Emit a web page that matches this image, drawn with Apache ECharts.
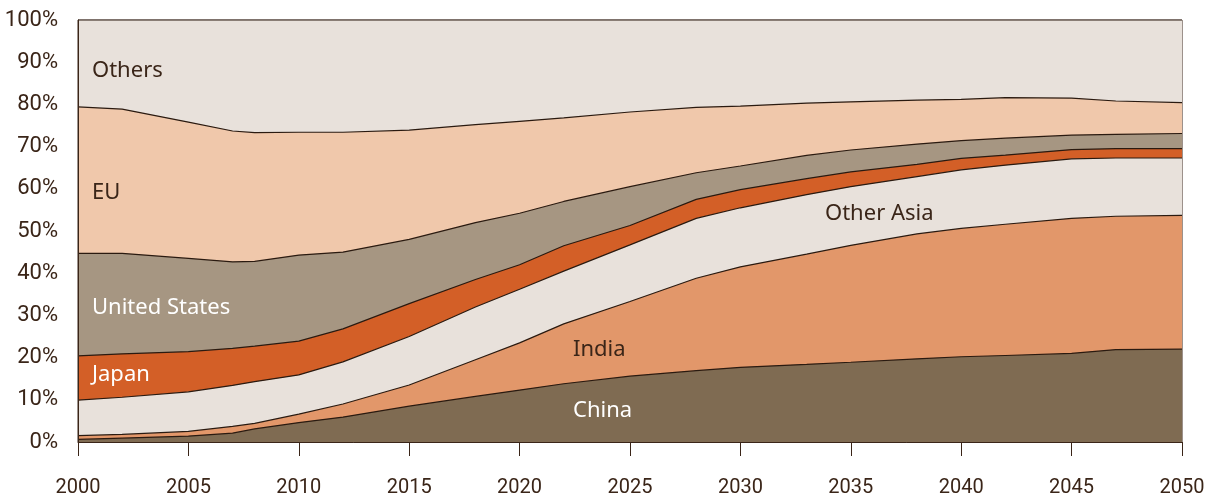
<!DOCTYPE html>
<html>
<head>
<meta charset="utf-8">
<script src="https://cdn.jsdelivr.net/npm/echarts@6/dist/echarts.min.js"></script>
<style>
  html, body { margin: 0; padding: 0; background: #fff; }
  #chart { width: 1217px; height: 500px; }
</style>
</head>
<body>
<div id="chart"></div>
<script>
// years
const years = [2000, 2002, 2005, 2007, 2008, 2010, 2012, 2015, 2018, 2020, 2022,
  2025, 2028, 2030, 2033, 2035, 2038, 2040, 2042, 2045, 2047, 2050]

// shares in %, bottom layer first
const china     = [0.6, 0.9, 1.4, 2.1, 3.1, 4.6, 5.9, 8.5, 10.8, 12.3, 13.8, 15.6, 16.9, 17.7, 18.4, 18.9, 19.7, 20.2, 20.5, 21.0, 21.9, 22.0]
const india     = [0.9, 0.9, 1.1, 1.6, 1.3, 2.0, 3.1, 5.0, 8.7, 11.2, 14.2, 17.7, 21.9, 23.8, 26.1, 27.7, 29.6, 30.4, 31.1, 32.0, 31.6, 31.7]
const otherAsia = [8.4, 8.8, 9.4, 9.7, 9.9, 9.3, 10.0, 11.5, 12.5, 12.7, 12.5, 13.4, 14.2, 14.0, 14.1, 13.9, 13.6, 13.9, 14.0, 14.1, 13.8, 13.6]
const japan     = [10.5, 10.3, 9.5, 8.8, 8.4, 8.0, 7.8, 7.8, 6.5, 5.8, 6.0, 4.6, 4.5, 4.3, 3.8, 3.5, 2.9, 2.7, 2.4, 2.2, 2.2, 2.2]
const us        = [24.3, 23.8, 22.1, 20.5, 20.1, 20.4, 18.2, 15.2, 13.5, 12.2, 10.5, 9.2, 6.3, 5.6, 5.5, 5.2, 4.8, 4.2, 4.0, 3.4, 3.4, 3.6]
const eu        = [34.7, 34.2, 32.3, 31.0, 30.5, 29.1, 28.4, 25.9, 23.2, 21.8, 19.8, 17.7, 15.5, 14.2, 12.4, 11.4, 10.4, 9.8, 9.6, 8.8, 7.9, 7.3]
const others    = [20.6, 21.1, 24.2, 26.3, 26.7, 26.6, 26.6, 26.1, 24.8, 24.0, 23.2, 21.8, 20.7, 20.4, 19.7, 19.4, 19.0, 18.8, 18.4, 18.5, 19.2, 19.6]

const layers = [
  { name: 'China', data: china, color: '#7f6b52' },
  { name: 'India', data: india, color: '#e2976a' },
  { name: 'Other Asia', data: otherAsia, color: '#e8e1db' },
  { name: 'Japan', data: japan, color: '#d35f27' },
  { name: 'United States', data: us, color: '#a69682' },
  { name: 'EU', data: eu, color: '#f0c8ab' },
  { name: 'Others', data: others, color: '#e8e1db' }
]

const ink = '#3a2518'
const font = 'Roboto'

// running totals: each layer is filled from its top edge down to 0,
// the upper layers are painted first so the lower ones sit on top
const running = years.map(() => 0)
const series = layers.map((l, k) => {
  const data = l.data.map((v, i) => {
    running[i] += v
    return [years[i], +running[i].toFixed(2)]
  })
  return {
    name: l.name,
    type: 'line',
    symbol: 'none',
    data: data,
    lineStyle: { color: '#2a1a10', width: 1.2 },
    areaStyle: { color: l.color, opacity: 1, origin: 'start' },
    z: 2 + layers.length - k
  }
})

function areaLabel(text, x, y, color) {
  return {
    type: 'text',
    x: x,
    y: y,
    z: 100,
    style: { text: text, fill: color, font: '22px "Noto Sans"', verticalAlign: 'middle' }
  }
}

const chart = echarts.init(document.getElementById('chart'))
chart.setOption({
  animation: false,
  grid: {
    left: 78, right: 35, top: 20, bottom: 58,
    show: true, borderColor: ink, borderWidth: 1, backgroundColor: 'transparent'
  },
  xAxis: {
    type: 'value',
    min: 2000, max: 2050, interval: 5,
    axisLine: { lineStyle: { color: ink, width: 1 } },
    axisTick: { show: true, length: 14, lineStyle: { color: ink } },
    axisLabel: { color: ink, fontSize: 20, fontFamily: font, margin: 36, formatter: v => String(v) },
    splitLine: { show: false },
    z: 20
  },
  yAxis: {
    type: 'value',
    min: 0, max: 100, interval: 10,
    axisLine: { show: true, lineStyle: { color: ink, width: 1 } },
    axisTick: { show: false },
    axisLabel: { color: ink, fontSize: 22, fontFamily: font, margin: 20, formatter: '{value}%' },
    splitLine: { show: false },
    z: 20
  },
  series: series,
  graphic: [
    areaLabel('Others', 92, 71, ink),
    areaLabel('EU', 92, 193, ink),
    areaLabel('United States', 92, 308, '#ffffff'),
    areaLabel('Japan', 92, 375, '#ffffff'),
    areaLabel('India', 573, 350, ink),
    areaLabel('China', 573, 411, '#ffffff'),
    areaLabel('Other Asia', 825, 214, ink)
  ]
})
</script>
</body>
</html>
